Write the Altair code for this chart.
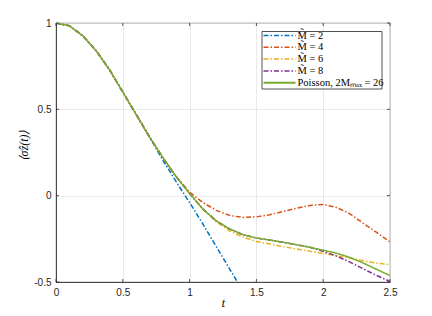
import altair as alt
import pandas as pd

t_vals = [0.0, 0.1, 0.2, 0.3, 0.4, 0.5, 0.6, 0.7, 0.8, 0.9, 1.0, 1.1, 1.2,
          1.3, 1.4, 1.5, 1.6, 1.7, 1.8, 1.9, 2.0, 2.1, 2.2, 2.3, 2.4, 2.5]

common = [1.0, 0.984, 0.926, 0.84, 0.73, 0.60, 0.47, 0.34]

m2 = common + [0.205, 0.08, -0.04, -0.165, -0.295, -0.425, -0.555]
m4 = common + [0.22, 0.11, 0.02, -0.04, -0.085, -0.115, -0.126, -0.123, -0.11,
               -0.092, -0.073, -0.057, -0.051, -0.068, -0.105, -0.16, -0.213, -0.268]
m6 = common + [0.22, 0.11, 0.013, -0.078, -0.152, -0.205, -0.24, -0.265, -0.28,
               -0.295, -0.309, -0.322, -0.334, -0.347, -0.362, -0.377, -0.391, -0.40]
m8 = common + [0.22, 0.11, 0.013, -0.078, -0.146, -0.193, -0.226, -0.245, -0.257,
               -0.27, -0.284, -0.299, -0.322, -0.35, -0.385, -0.424, -0.462, -0.497]
poisson = common + [0.22, 0.11, 0.013, -0.078, -0.146, -0.193, -0.226, -0.245, -0.257,
                    -0.27, -0.284, -0.299, -0.316, -0.333, -0.358, -0.39, -0.427, -0.463]

series_names = ["M̃ = 2", "M̃ = 4", "M̃ = 6", "M̃ = 8", "Poisson, 2Mₘₐₓ = 26"]
series_vals = [m2, m4, m6, m8, poisson]
colors = ["#0072BD", "#D95319", "#EDB120", "#7E2F8E", "#77AC30"]
dashes = [[5, 2, 1.5, 2]] * 4 + [[1, 0]]
widths = [1.5, 1.5, 1.5, 1.5, 2.0]

x_ticks = [0, 0.5, 1, 1.5, 2, 2.5]
y_ticks = [-0.5, 0, 0.5, 1]

rows = []
for name, vals in zip(series_names, series_vals):
    for t, v in zip(t_vals, vals):
        rows.append({"t": t, "v": v, "series": name})
df = pd.DataFrame(rows)

W, H = 334, 259
AX = "#262626"

xs = alt.Scale(domain=[0, 2.5], nice=False, zero=False)
ys = alt.Scale(domain=[-0.5, 1], nice=False, zero=False)

lines = alt.Chart(df).mark_line(clip=True).encode(
    x=alt.X("t:Q", scale=xs,
            axis=alt.Axis(values=x_ticks, title="t", grid=True, tickSize=0,
                          labelExpr="datum.value", labelFlush=False,
                          titleFontStyle="italic",
                          titleFont="Liberation Serif", titleFontSize=12,
                          titleFontWeight="normal", titlePadding=0)),
    y=alt.Y("v:Q", scale=ys,
            axis=alt.Axis(values=y_ticks, title="⟨σ̂z(t)⟩", grid=True, tickSize=0,
                          labelExpr="datum.value", labelFlush=False,
                          titleFont="Liberation Serif",
                          titleFontStyle="italic", titleFontSize=12,
                          titleFontWeight="normal", titleX=-33, titleY=122,
                          titleAngle=-90, titleAlign="center", titleBaseline="middle")),
    color=alt.Color("series:N", scale=alt.Scale(domain=series_names, range=colors),
                    legend=None),
    strokeDash=alt.StrokeDash("series:N", scale=alt.Scale(domain=series_names, range=dashes),
                              legend=None),
    strokeWidth=alt.StrokeWidth("series:N", scale=alt.Scale(domain=series_names, range=widths),
                                legend=None),
    order=alt.Order("t:Q"),
)

xt = pd.DataFrame({"t": x_ticks})
yt = pd.DataFrame({"v": y_ticks})
tick_b = alt.Chart(xt).mark_rule(color=AX, strokeWidth=0.8).encode(
    x=alt.X("t:Q", scale=xs), y=alt.value(H), y2=alt.value(H - 3))
tick_t = alt.Chart(xt).mark_rule(color=AX, strokeWidth=0.8).encode(
    x=alt.X("t:Q", scale=xs), y=alt.value(0), y2=alt.value(3))
tick_l = alt.Chart(yt).mark_rule(color=AX, strokeWidth=0.8).encode(
    y=alt.Y("v:Q", scale=ys), x=alt.value(0), x2=alt.value(3))
tick_r = alt.Chart(yt).mark_rule(color=AX, strokeWidth=0.8).encode(
    y=alt.Y("v:Q", scale=ys), x=alt.value(W), x2=alt.value(W - 3))

# custom legend (MATLAB style box in the upper right)
LX0, LX1, LY0, LY1 = 206, 326, 8.5, 66
leg_layers = [
    alt.Chart(pd.DataFrame({"k": [0]})).mark_rect(
        fill="white", stroke=AX, strokeWidth=0.8).encode(
        x=alt.value(LX0), x2=alt.value(LX1), y=alt.value(LY0), y2=alt.value(LY1))
]
for i, name in enumerate(series_names):
    one = pd.DataFrame({"series": [name]})
    yy = 12.5 + 11.8 * i
    leg_layers.append(
        alt.Chart(one).mark_rule(strokeDash=dashes[i], strokeWidth=widths[i],
                                 color=colors[i]).encode(
            x=alt.value(207.5), x2=alt.value(239.5), y=alt.value(yy)))
    leg_layers.append(
        alt.Chart(one).mark_text(align="left", baseline="middle",
                                 font="Liberation Serif", fontSize=10.5,
                                 color="#000000").encode(
            text="series:N", x=alt.value(241.5), y=alt.value(yy)))

chart = alt.layer(lines, tick_b, tick_t, tick_l, tick_r, *leg_layers).properties(
    width=W, height=H,
    autosize=alt.AutoSizeParams(type="none"),
    padding={"left": 48, "top": 15, "right": 34, "bottom": 26},
).configure_view(stroke=AX, strokeWidth=0.8).configure_axis(
    gridColor="#e3e3e3", gridWidth=0.8, domainColor=AX, domainWidth=0.8,
    labelFont="Liberation Sans", labelFontSize=10, labelColor=AX,
    titleColor="#000000", labelPadding=5,
)

chart.save("out.html", embed_options={"renderer": "svg", "actions": False})
